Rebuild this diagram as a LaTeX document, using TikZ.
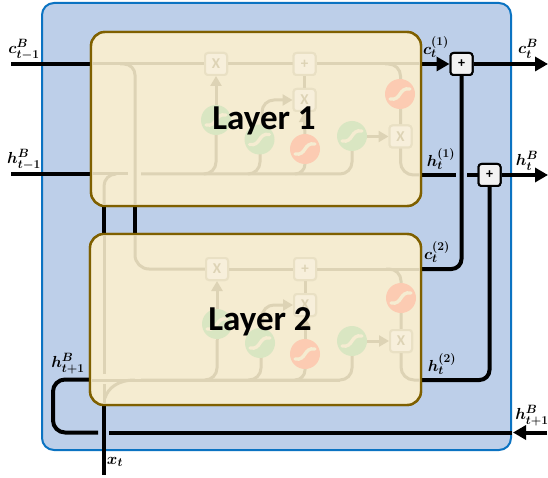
\RequirePackage{fix-cm}
\documentclass[tikz,border=0pt]{standalone}
\usepackage{fontspec}
\newfontfamily\layerfont{Carlito}
\usetikzlibrary{arrows.meta,calc}
\DeclareMathSizes{16}{16}{12}{9}
\definecolor{outerfill}{HTML}{BDCFE9}
\definecolor{outerline}{HTML}{0B73C2}
\definecolor{layerfill}{HTML}{F5ECD1}
\definecolor{layerline}{HTML}{7F6000}
\definecolor{faint}{HTML}{DDD3B5}
\definecolor{opfill}{HTML}{F7EFDB}
\definecolor{opline}{HTML}{E9E0C4}
\definecolor{sgreen}{HTML}{D9E6C2}
\definecolor{sred}{HTML}{FCCBB2}
\tikzset{
  outerbox/.style={draw=outerline,fill=outerfill,line width=2pt,rounded corners=12pt},
  layerbox/.style={draw=layerline,fill=layerfill,line width=2.4pt,rounded corners=14pt},
  wire/.style={draw=black,line width=4pt},
  wirearrow/.style={wire,-{Triangle[length=13pt,width=14pt]}},
  fw/.style={draw=faint,line width=3pt},
  fwarrow/.style={fw,-{Triangle[length=10pt,width=11pt]}},
  plusbox/.style={draw=black,fill=black!5,line width=2pt,rounded corners=3pt,minimum size=22pt,inner sep=0pt,font=\layerfont\bfseries\fontsize{14}{14}\selectfont},
  opbox/.style={draw=opline,fill=opfill,line width=2pt,rounded corners=3pt,minimum size=22pt,inner sep=0pt,text=faint,font=\layerfont\bfseries\fontsize{15}{15}\selectfont},
  sigcirc/.style={circle,minimum size=30pt,inner sep=0pt},
  mlabel/.style={inner sep=0pt,font=\fontsize{16}{18}\selectfont},
  layertext/.style={inner sep=0pt,font=\layerfont\bfseries\fontsize{35}{35}\selectfont}
}
\newcommand{\squiggle}[1]{%
  \draw[draw=layerfill,line width=3.4pt,line cap=round]
    ($(#1)+(-10,5)$) .. controls ($(#1)+(2,7)$) and ($(#1)+(-2,-7)$) .. ($(#1)+(10,-5)$);}
\begin{document}
\begin{tikzpicture}[x=1pt,y=-1pt]
\useasboundingbox (0,0) rectangle (548,478);
\node[outerbox,minimum width=469pt,minimum height=447pt,inner sep=0pt] (outer) at (276.5,226.5) {};
% free ends
\coordinate (cin) at (11,64);
\coordinate (hin) at (11,174);
\coordinate (cout) at (548,64);
\coordinate (hout) at (548,175);
\coordinate (xin) at (104,475);
\coordinate (hright) at (547,432.5);
\coordinate (gapR) at (109,432.5);
\coordinate (gapL) at (98,432.5);
\coordinate (hA) at (456,175);
\coordinate (hB) at (467,175);
\coordinate (loopC) at (53,432.5);
\coordinate (loopD) at (53,379.5);
\node[layerbox,minimum width=330pt,minimum height=174pt,inner sep=0pt] (L1) at (256,119) {};
\node[layerbox,minimum width=331pt,minimum height=171pt,inner sep=0pt] (L2) at (255.5,319.5) {};
\node[plusbox] (P1) at (461.5,64) {+};
\node[plusbox] (P2) at (489.5,175) {+};
% black wires
\draw[wire] (cin) -- (cin -| L1.west);
\draw[wire] (hin) -- (hin -| L1.west);
\draw[wire] (104,206) -- (104,234);
\draw[wire] (135,206) -- (135,234);
\draw[wire] (104,405) -- (xin);
\draw[wirearrow] (L1.east |- P1) -- (P1.west);
\draw[wirearrow] (P1.east) -- (cout);
\draw[wire] (L1.east |- hA) -- (hA);
\draw[wire] (hB) -- (P2.west);
\draw[wirearrow] (P2.east) -- (hout);
\draw[wire,rounded corners=10pt] (P1.south) -- (P1.south |- 0,269) -- (421,269);
\draw[wire,rounded corners=10pt] (P2.south) -- (P2.south |- 0,380) -- (421,380);
\draw[wire] (outer.east |- hright) -- (gapR);
\draw[wire,rounded corners=12pt] (gapL) -- (loopC) -- (loopD) -- (L2.west |- loopD);
\draw[wirearrow] (hright) -- (513,432.5);
% redraw layers on top of wire ends
\node[layerbox,minimum width=330pt,minimum height=174pt,inner sep=0pt] at (L1) {};
\node[layerbox,minimum width=331pt,minimum height=171pt,inner sep=0pt] at (L2) {};
\node[plusbox] at (P1) {+};
\node[plusbox] at (P2) {+};
% Layer 1 cell
\node[opbox] (a1) at (216,64) {X};
\node[opbox] (b1) at (304.5,64) {+};
\node[opbox] (c1) at (304.5,100) {X};
\node[opbox] (d1) at (400.5,136.5) {X};
\draw[fw] (92,64) -- (a1.west);
\draw[fw] (a1.east) -- (b1.west);
\draw[fw] (b1.east) -- (420,64);
\draw[fw] (b1.south) -- (c1.north);
\draw[fw,rounded corners=11pt] (120,64) -- (135,64) -- (135,205);
\draw[fw,rounded corners=12pt] (104,205) -- (104,174) -- (116,174);
\draw[fw] (92,174) -- (128,174);
\draw[fw,rounded corners=12pt] (141,174) -- (352,174) -- (352,136);
\draw[fw,rounded corners=12pt] (205,174) -- (216,174) -- (216,135);
\draw[fw,rounded corners=12pt] (248,174) -- (260,174) -- (260,140);
\draw[fw,rounded corners=10pt] (295,174) -- (305,174) -- (305,149);
\draw[fwarrow] (216,135) -- (a1.south);
\draw[fwarrow,rounded corners=12pt] (262,140) -- (262,100) -- (c1.west);
\draw[fwarrow] (305,149) -- (c1.south);
\draw[fwarrow] (352,136.5) -- (d1.west);
\draw[fw,rounded corners=12pt] (385,64) -- (400.5,64) -- (d1.north);
\draw[fw,rounded corners=13pt] (d1.south) -- (400.5,175) -- (420,175);
\node[opbox] at (a1) {X};
\node[opbox] at (b1) {+};
\node[opbox] at (c1) {X};
\node[opbox] at (d1) {X};
\node[sigcirc,fill=sgreen] (g1a) at (216,120) {};
\node[sigcirc,fill=sgreen] (g1b) at (259.5,139.5) {};
\node[sigcirc,fill=sred] (r1a) at (305,149) {};
\node[sigcirc,fill=sgreen] (g1c) at (352,136) {};
\node[sigcirc,fill=sred] (r1b) at (400,94) {};
\squiggle{g1a}\squiggle{g1b}\squiggle{r1a}\squiggle{g1c}\squiggle{r1b}
% Layer 2 cell
\node[opbox] (a2) at (217,269) {X};
\node[opbox] (b2) at (305,269) {+};
\node[opbox] (c2) at (305,305) {X};
\node[opbox] (d2) at (401,341) {X};
\draw[fw,rounded corners=14pt] (135,235) -- (135,269) -- (a2.west);
\draw[fw] (a2.east) -- (b2.west);
\draw[fw] (b2.east) -- (420,269);
\draw[fw] (b2.south) -- (c2.north);
\draw[fw] (104,235) -- (104,374);
\draw[fw] (104,384) -- (104,404);
\draw[fw] (92,380) -- (340,380);
\draw[fw] (105,398) .. controls (108,388) and (118,380) .. (135,380);
\draw[fw,rounded corners=12pt] (141,380) -- (352,380) -- (352,341);
\draw[fw,rounded corners=12pt] (205,380) -- (217,380) -- (217,340);
\draw[fw,rounded corners=12pt] (248,380) -- (261,380) -- (261,343);
\draw[fw,rounded corners=10pt] (295,380) -- (305,380) -- (305,353);
\draw[fwarrow] (217,340) -- (a2.south);
\draw[fwarrow,rounded corners=12pt] (262,343) -- (262,305) -- (c2.west);
\draw[fwarrow] (305,353) -- (c2.south);
\draw[fwarrow] (352,341) -- (d2.west);
\draw[fw,rounded corners=12pt] (386,269) -- (401,269) -- (d2.north);
\draw[fw,rounded corners=13pt] (d2.south) -- (401,380) -- (420,380);
\node[opbox] at (a2) {X};
\node[opbox] at (b2) {+};
\node[opbox] at (c2) {X};
\node[opbox] at (d2) {X};
\node[sigcirc,fill=sgreen] (g2a) at (217,324) {};
\node[sigcirc,fill=sgreen] (g2b) at (260,343) {};
\node[sigcirc,fill=sred] (r2a) at (305,354) {};
\node[sigcirc,fill=sgreen] (g2c) at (352,341) {};
\node[sigcirc,fill=sred] (r2b) at (401,298) {};
\squiggle{g2a}\squiggle{g2b}\squiggle{r2a}\squiggle{g2c}\squiggle{r2b}
\node[layertext] (t1) at (264,121) {Layer 1};
\node[layertext] (t2) at (260,322) {Layer 2};
% labels
\boldmath
\node[mlabel] (l1) at (24,50) {$c_{t-1}^{B}$};
\node[mlabel] (l2) at (24,160) {$h_{t-1}^{B}$};
\node[mlabel] (l3) at (436,47) {$c_{t}^{(1)}$};
\node[mlabel] (l4) at (528,49) {$c_{t}^{B}$};
\node[mlabel] (l5) at (441,159) {$h_{t}^{(1)}$};
\node[mlabel] (l6) at (527,161) {$h_{t}^{B}$};
\node[mlabel] (l7) at (437,252) {$c_{t}^{(2)}$};
\node[mlabel] (l8) at (442,364) {$h_{t}^{(2)}$};
\node[mlabel] (l9) at (68,364) {$h_{t+1}^{B}$};
\node[mlabel] (l10) at (532,416) {$h_{t+1}^{B}$};
\node[mlabel] (l11) at (115,462) {$x_{t}$};
\end{tikzpicture}
\end{document}
